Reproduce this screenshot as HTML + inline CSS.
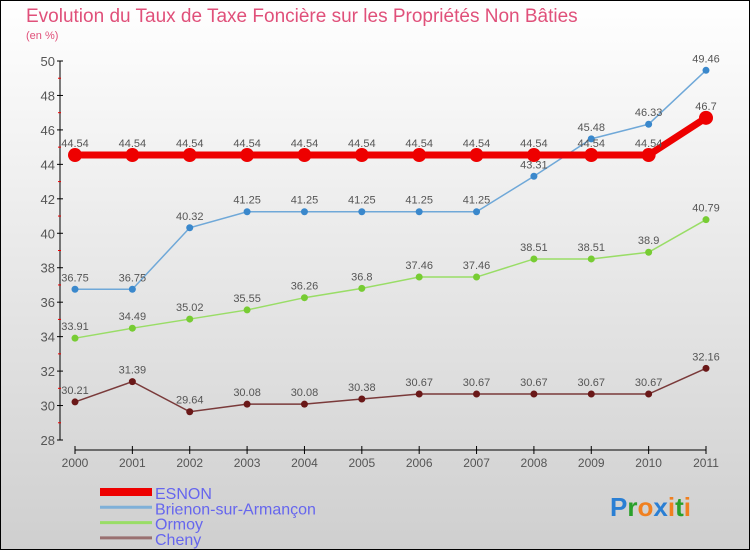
<!DOCTYPE html>
<html><head><meta charset="utf-8"><style>
body{margin:0}
#c{position:relative;width:750px;height:550px;overflow:hidden;font-family:"Liberation Sans",sans-serif}
</style></head><body>
<div id="c">
<svg width="750" height="550" xmlns="http://www.w3.org/2000/svg">
<defs><linearGradient id="bg" x1="0" y1="0" x2="0" y2="1"><stop offset="0" stop-color="#ffffff"/><stop offset="1" stop-color="#cfcfcf"/></linearGradient></defs>
<rect x="0.5" y="0.5" width="749" height="549" fill="url(#bg)" stroke="#000"/>
<text x="26" y="22" font-size="19" fill="#e0507a">Evolution du Taux de Taxe Foncière sur les Propriétés Non Bâties</text>
<text x="26" y="39" font-size="11" fill="#e0507a">(en %)</text>
<g id="axes"></g>
<g id="series"></g>
<g id="legend"></g>
<text x="610" y="516" font-size="26" font-weight="bold"><tspan fill="#2a7fd4">P</tspan><tspan fill="#2aa02a">r</tspan><tspan fill="#f08020">o</tspan><tspan fill="#2a7fd4">x</tspan><tspan fill="#f08020">i</tspan><tspan fill="#2aa02a">t</tspan><tspan fill="#f08020">i</tspan></text>
</svg>
</div>
<script>
const years=["2000","2001","2002","2003","2004","2005","2006","2007","2008","2009","2010","2011"];
const esnon=[44.54,44.54,44.54,44.54,44.54,44.54,44.54,44.54,44.54,44.54,44.54,46.7];
const brienon=[36.75,36.75,40.32,41.25,41.25,41.25,41.25,41.25,43.31,45.48,46.33,49.46];
const ormoy=[33.91,34.49,35.02,35.55,36.26,36.8,37.46,37.46,38.51,38.51,38.9,40.79];
const cheny=[30.21,31.39,29.64,30.08,30.08,30.38,30.67,30.67,30.67,30.67,30.67,32.16];
const yTicks=[28,30,32,34,36,38,40,42,44,46,48,50];
const seriesNames=["ESNON","Brienon-sur-Armançon","Ormoy","Cheny"];
const NS="http://www.w3.org/2000/svg";
const xs=i=>75+i*(706-75)/11;
const ys=v=>440-(v-28)*(440-61)/22;
function mk(t,a,p){const e=document.createElementNS(NS,t);for(const k in a)e.setAttribute(k,a[k]);p.appendChild(e);return e;}
const ax=document.getElementById('axes');
let l=mk('line',{x1:60,y1:61,x2:60,y2:440,stroke:'#000'},ax);

l=mk('line',{x1:75,y1:450,x2:706,y2:450,stroke:'#000'},ax);

yTicks.forEach((v,i)=>{
  const t=mk('line',{x1:57,y1:ys(v),x2:63,y2:ys(v),stroke:'#000'},ax);
  
  if(i<yTicks.length-1){const m=mk('line',{x1:58,y1:ys(v+1),x2:61,y2:ys(v+1),stroke:'#e00'},ax);
  }
  const tx=mk('text',{x:55,y:ys(v)+5,'font-size':13,fill:'#555','text-anchor':'end'},ax);tx.textContent=v;
  
});
years.forEach((y,i)=>{
  const t=mk('line',{x1:xs(i),y1:446,x2:xs(i),y2:454,stroke:'#000'},ax);
  
  const tx=mk('text',{x:xs(i),y:467,'font-size':12,fill:'#555','text-anchor':'middle'},ax);tx.textContent=y;
  
});
const sg=document.getElementById('series');
function draw(vals,name,col,dot,w,r){
  const g=mk('g',{},sg);
  const pl=mk('polyline',{points:vals.map((v,i)=>xs(i)+','+ys(v)).join(' '),fill:'none',stroke:col,'stroke-width':w},g);
  
  vals.forEach((v,i)=>{
    const c=mk('circle',{cx:xs(i),cy:ys(v),r:r,fill:dot},g);
    
    const t=mk('text',{x:xs(i),y:ys(v)-8,'font-size':11,fill:'#555','text-anchor':'middle'},g);t.textContent=v;
    
  });
}
draw(cheny,'cheny','#7a3a3a','#6a1818',1.5,3.5);
draw(ormoy,'ormoy','#99dd66','#77cc33',1.5,3.5);
draw(brienon,'brienon','#6fa8d8','#3a88cc',1.5,3.5);
draw(esnon,'esnon','#ee0000','#ee0000',7,7);
const lg=document.getElementById('legend');
const lcol=['#ee0000','#7fb0d8','#99dd66','#997070'],lw=[8,3,3,3];
seriesNames.forEach((n,i)=>{
  const y=492+i*15.3;
  const l=mk('line',{x1:100,y1:y,x2:152,y2:y,stroke:lcol[i],'stroke-width':lw[i]},lg);
  
  const t=mk('text',{x:155,y:y+7,'font-size':16,fill:'#6666ee'},lg);t.textContent=n;
  
});
</script>
</body></html>
